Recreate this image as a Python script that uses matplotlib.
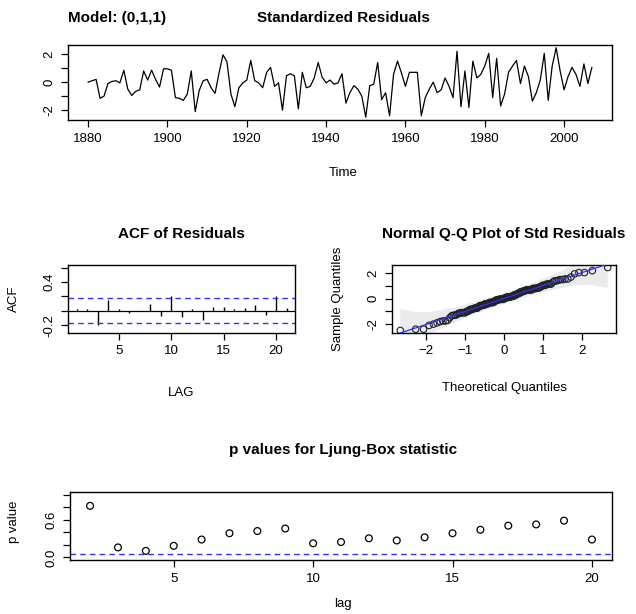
import matplotlib
matplotlib.use('Agg')
import matplotlib.pyplot as plt
import numpy as np
from statistics import NormalDist

plt.rcParams['font.family'] = ['Liberation Sans', 'DejaVu Sans']

# ---------------- data ----------------
start_year = 1880
resid = [0.0, 0.1, 0.2, -1.15, -1.0, -0.1, 0.05, 0.1, -0.05, 0.85,
         -0.5, -0.95, -0.65, -0.55, 0.8, 0.15, 0.85, 0.2, -0.35, 0.95,
         0.95, 0.85, -1.1, -1.15, -1.3, -0.85, 0.8, -2.1, -0.6, 0.1,
         0.2, -0.4, -0.8, 0.65, 1.95, 1.45, -0.85, -1.75, -0.4, -0.05,
         0.15, 1.55, 0.1, -0.05, -0.4, 0.7, 1.05, -0.3, -0.05, -2.0,
         0.45, 0.6, 0.45, -1.9, 0.7, -0.4, -0.3, 0.3, 1.4, 0.35,
         -0.05, 0.15, -0.15, -0.05, 0.6, -1.5, -0.75, -0.25, -0.5, -1.0,
         -2.5, -0.25, -0.15, 1.4, -1.25, -0.75, -2.4, 0.55, 1.5, 0.65,
         -0.3, 0.7, 0.7, 0.7, -2.4, -1.1, -0.5, 0.0, -0.75, -0.55,
         0.3, -0.3, -1.1, 2.2, -1.75, 0.8, -1.8, 1.5, 0.3, 0.55,
         1.15, 2.05, -1.1, 1.7, -1.7, -0.85, 0.7, 1.15, 1.55, -0.1,
         1.15, 0.4, -1.35, -0.75, 0.15, 2.05, -1.3, 1.15, 2.45, 0.8,
         -0.55, 0.4, 1.05, 0.55, -0.3, 1.3, -0.1, 1.05]
years = np.arange(start_year, start_year + len(resid))

acf_lags = list(range(1, 22))
acf_vals = [0.03, 0.02, -0.20, 0.15, 0.02, -0.03, 0.005, 0.10, -0.07, 0.20,
            -0.09, 0.02, -0.12, 0.06, 0.06, 0.02, 0.04, 0.08, -0.05, 0.20, 0.04]

lb_lags = list(range(2, 21))
lb_pvals = [0.82, 0.16, 0.105, 0.185, 0.285, 0.385, 0.42, 0.46, 0.225, 0.245,
            0.305, 0.27, 0.32, 0.385, 0.44, 0.505, 0.525, 0.585, 0.285]

model_label = "Model: (0,1,1)"

BLUE = '#3030ff'
W, H = 636, 614
fig = plt.figure(figsize=(W / 100, H / 100), dpi=100)

TS = 11     # title size
LS = 9.5    # label size
KS = 9.5    # tick label size


def ax_px(x0, y0, x1, y1):
    return fig.add_axes([x0 / W, 1 - y1 / H, (x1 - x0) / W, (y1 - y0) / H])


def rstyle(ax):
    for s in ax.spines.values():
        s.set_linewidth(1.0)
        s.set_color('black')
    ax.tick_params(axis='both', direction='out', length=5, width=0.9,
                   labelsize=KS, colors='black')
    ax.tick_params(axis='x', pad=4)
    ax.tick_params(axis='y', pad=4)


def ytick_labels(ax, ticks, shown):
    ax.set_yticks(ticks)
    ax.set_yticklabels([(f'{t:g}' if t in shown else '') for t in ticks],
                       rotation=90, va='center')


# ---------------- top: standardized residuals ----------------
ax1 = ax_px(68, 45, 612, 120)
ax1.plot(years, resid, color='black', lw=0.9)
rng = years[-1] - years[0]
ax1.set_xlim(years[0] - 0.04 * rng, years[-1] + 0.04 * rng)
ymin, ymax = min(resid), max(resid)
ax1.set_ylim(ymin - 0.04 * (ymax - ymin), ymax + 0.04 * (ymax - ymin))
ax1.set_xticks(np.arange(1880, 2001, 20))
ytick_labels(ax1, [-2, -1, 0, 1, 2], [-2, 0, 2])
rstyle(ax1)
fig.text(343 / W, 1 - 18 / H, 'Standardized Residuals', ha='center', va='center',
         fontsize=TS, fontweight='bold')
fig.text(68 / W, 1 - 18 / H, model_label, ha='left', va='center',
         fontsize=TS, fontweight='bold')
fig.text(343 / W, 1 - 173 / H, 'Time', ha='center', va='center', fontsize=LS)

# ---------------- ACF of residuals ----------------
ax2 = ax_px(68, 265, 295, 333)
ax2.vlines(acf_lags, 0, acf_vals, color='black', lw=1.0)
ax2.axhline(0, color='black', lw=0.9)
n = len(resid)
U = 1.96 / np.sqrt(n)
ax2.axhline(U, color=BLUE, lw=1.0, ls=(0, (4, 3)))
ax2.axhline(-U, color=BLUE, lw=1.0, ls=(0, (4, 3)))
ax2.set_xlim(0.15, 21.8)
ax2.set_ylim(-0.305, 0.635)
ax2.set_xticks([5, 10, 15, 20])
ax2.set_yticks([-0.2, 0.0, 0.2, 0.4, 0.6])
ax2.set_yticklabels(['-0.2', '', '', '0.4', ''], rotation=90, va='center')
rstyle(ax2)
fig.text(181 / W, 1 - 234 / H, 'ACF of Residuals', ha='center', va='center',
         fontsize=TS, fontweight='bold')
fig.text(181 / W, 1 - 393 / H, 'LAG', ha='center', va='center', fontsize=LS)
fig.text(14 / W, 1 - 299 / H, 'ACF', ha='center', va='center', fontsize=LS,
         rotation=90)

# ---------------- Normal Q-Q ----------------
ax3 = ax_px(392, 265, 616, 333)
nd = NormalDist()
srt = np.sort(np.array(resid))
pp = (np.arange(1, n + 1) - 0.5) / n
z = np.array([nd.inv_cdf(p) for p in pp])
q1, q3 = np.quantile(srt, [0.25, 0.75])
x1, x3 = nd.inv_cdf(0.25), nd.inv_cdf(0.75)
b = (q3 - q1) / (x3 - x1)
a = q1 - b * x1
dens = np.array([nd.pdf(v) for v in z])
SE = (b / dens) * np.sqrt(pp * (1 - pp) / n)
fit = a + b * z
Ub = fit + 3.9 * SE
Lb = fit - 3.9 * SE
ax3.fill(np.concatenate([z, z[::-1]]), np.concatenate([Ub, Lb[::-1]]),
         color='#ebebeb', lw=0, zorder=0)
ax3.scatter(z, srt, s=22, facecolors='none', edgecolors='#222222', lw=0.8, zorder=2)
zr = z[-1] - z[0]
xl = (z[0] - 0.04 * zr, z[-1] + 0.04 * zr)
xx = np.array(xl)
ax3.plot(xx, a + b * xx, color=BLUE, lw=0.9, zorder=3)
ax3.set_xlim(*xl)
ax3.set_ylim(ymin - 0.04 * (ymax - ymin), ymax + 0.04 * (ymax - ymin))
ax3.set_xticks([-2, -1, 0, 1, 2])
ytick_labels(ax3, [-2, -1, 0, 1, 2], [-2, 0, 2])
rstyle(ax3)
fig.text(504 / W, 1 - 234 / H, 'Normal Q-Q Plot of Std Residuals', ha='center',
         va='center', fontsize=TS, fontweight='bold')
fig.text(504 / W, 1 - 388 / H, 'Theoretical Quantiles', ha='center', va='center',
         fontsize=LS)
fig.text(338 / W, 1 - 299 / H, 'Sample Quantiles', ha='center', va='center',
         fontsize=LS, rotation=90)

# ---------------- Ljung-Box ----------------
ax4 = ax_px(70, 492, 612, 560)
ax4.scatter(lb_lags, lb_pvals, s=24, facecolors='none', edgecolors='black', lw=0.9)
ax4.axhline(0.05, color=BLUE, lw=1.0, ls=(0, (4, 3)))
lr = lb_lags[-1] - lb_lags[0]
ax4.set_xlim(lb_lags[0] - 0.04 * lr, lb_lags[-1] + 0.04 * lr)
ax4.set_ylim(-0.04, 1.04)
ax4.set_xticks([5, 10, 15, 20])
ax4.set_yticks([0.0, 0.2, 0.4, 0.6, 0.8, 1.0])
ax4.set_yticklabels(['0.0', '', '', '0.6', '', ''], rotation=90, va='center')
rstyle(ax4)
fig.text(343 / W, 1 - 450 / H, 'p values for Ljung-Box statistic', ha='center',
         va='center', fontsize=TS, fontweight='bold')
fig.text(343 / W, 1 - 604 / H, 'lag', ha='center', va='center', fontsize=LS)
fig.text(14 / W, 1 - 522 / H, 'p value', ha='center', va='center', fontsize=LS,
         rotation=90)

fig.savefig('out.png', dpi=100)
